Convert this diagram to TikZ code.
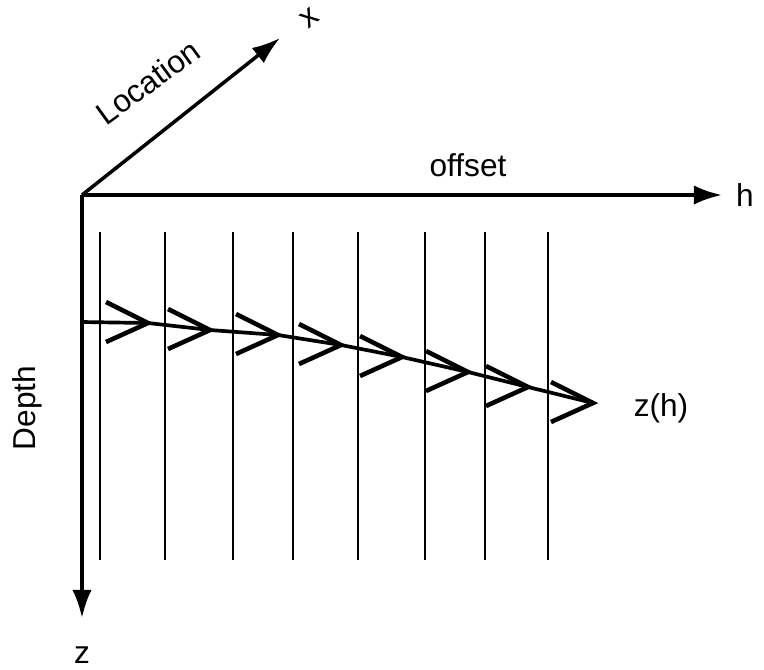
\documentclass[tikz,border=0pt]{standalone}
\usepackage{fontspec}
\setmainfont{Liberation Sans}
\usetikzlibrary{arrows.meta, positioning}
\tikzset{
  every picture/.style={font=\fontsize{18}{21}\selectfont, line width=1.1pt},
  axis/.style={-{Latex[length=16pt, width=11pt]}, line width=2pt},
  trace/.style={line width=1.1pt},
  ray/.style={line width=2.1pt},
  chev/.style={line width=2.6pt},
  lbl/.style={inner sep=1pt},
}
\begin{document}
\begin{tikzpicture}
  \useasboundingbox (-1.64,-9.48) rectangle (13.64,3.9);
  % axes
  \coordinate (o) at (0,0);
  \coordinate (hend) at (12.8,0);
  \coordinate (xend) at (3.96,3.14);
  \coordinate (zend) at (0,-8.46);
  \draw[axis] (o) -- (hend);
  \draw[axis] (o) -- (xend);
  \draw[axis] (o) -- (zend);
  \node[lbl] (h) at (13.26,0) {h};
  \node[lbl] (off) at (7.72,0.6) {offset};
  \node[lbl, rotate=38] (x) at (4.56,3.54) {x};
  \node[lbl, rotate=36] (loc) at (1.32,2.26) {Location};
  \node[lbl] (z) at (0,-9.2) {z};
  \node[lbl, rotate=90] (dep) at (-1.1,-4.26) {Depth};
  % traces at each offset
  \foreach \i/\px in {1/0.36, 2/1.66, 3/3.02, 4/4.22, 5/5.52, 6/6.86, 7/8.06, 8/9.32}
    \draw[trace] (\px,-0.74) coordinate (t\i) -- (\px,-7.3);
  % picked depth along offset
  \coordinate (s) at (0,-2.54);
  \coordinate (c1) at (1.32,-2.56);
  \coordinate (c2) at (2.56,-2.70);
  \coordinate (c3) at (3.92,-2.80);
  \coordinate (c4) at (5.18,-3.00);
  \coordinate (c5) at (6.40,-3.24);
  \coordinate (c6) at (7.72,-3.54);
  \coordinate (c7) at (8.92,-3.84);
  \coordinate (c8) at (10.22,-4.16);
  \draw[ray] (s) -- (c1) -- (c2) -- (c3) -- (c4) -- (c5) -- (c6) -- (c7) -- (c8);
  \foreach \c in {c1,c2,c3,c4,c5,c6,c7,c8}
    \draw[chev, line join=miter] ([shift={(-0.84,0.42)}]\c) -- (\c) -- ([shift={(-0.84,-0.38)}]\c);
  \node[lbl] (zh) at (11.58,-4.26) {z(h)};
\end{tikzpicture}
\end{document}
